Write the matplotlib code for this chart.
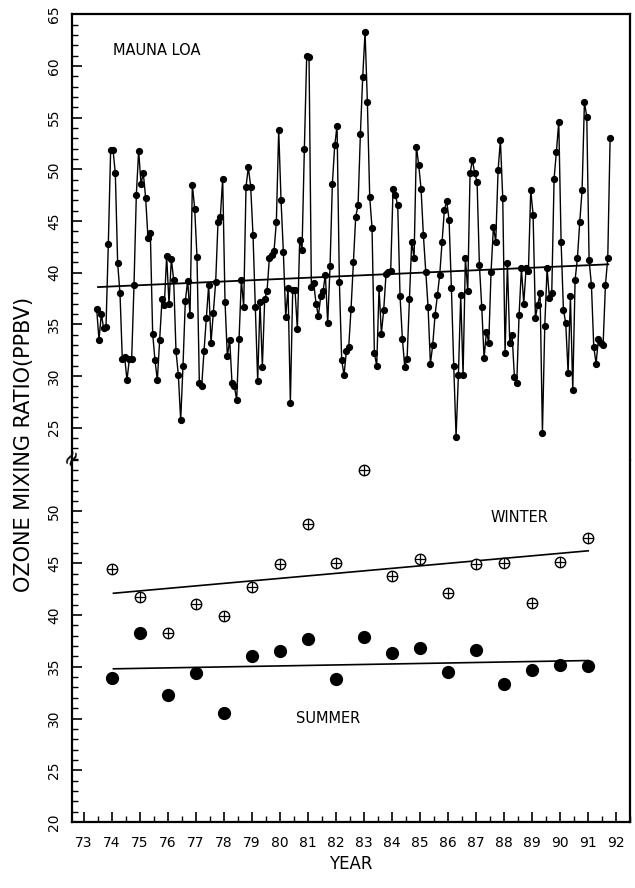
import numpy as np
import matplotlib
matplotlib.use("Agg")
import matplotlib.pyplot as plt
from matplotlib.ticker import MultipleLocator

# Mauna Loa, mesicni hodnoty ozonu (ppbv), od pol. 1973
start_year = 73.45
ozone_monthly = [
    36.5, 33.5, 36.0, 34.6, 34.7, 42.8, 51.9,
    51.9, 49.6, 40.9, 38.0, 31.6, 31.8, 29.6, 31.6, 31.6, 38.8, 47.5,
    51.8, 48.6, 49.6, 47.2, 43.3, 43.8, 34.1, 31.5, 29.6, 33.5, 37.4, 36.9,
    41.6, 37.0, 41.3, 39.3, 32.4, 30.1, 25.7, 31.0, 37.3, 39.2, 35.9,
    48.5, 46.2, 41.5, 29.3, 29.0, 32.4, 35.6, 38.8, 33.2, 36.1, 39.1, 44.9, 45.4,
    49.1, 37.2, 31.9, 33.5, 29.3, 29.0, 27.7, 33.6, 39.3, 36.7, 48.3,
    50.2, 48.3, 43.6, 36.7, 29.5, 37.2, 30.9, 37.4, 38.2, 41.4, 41.7, 42.1, 44.9,
    53.8, 47.0, 42.0, 35.7, 38.5, 27.4, 38.3, 38.3, 34.5, 43.2, 42.2, 52.0,
    61.0, 60.9, 38.6, 39.0, 37.0, 35.8, 37.7, 38.2, 39.8, 35.1, 40.6, 48.6, 52.3,
    54.2, 39.1, 31.5, 30.1, 32.4, 32.8, 36.5, 41.0, 45.4, 46.5, 53.4, 58.9,
    63.3, 56.5, 47.3, 44.3, 32.2, 31.0, 38.5, 34.1, 36.4, 39.9, 40.1, 40.2,
    48.1, 47.5, 46.5, 37.7, 33.6, 30.9, 31.6, 37.4, 43.0, 41.4,
    52.2, 50.4, 48.1, 43.6, 40.1, 36.7, 31.2, 33.0, 35.9, 37.8, 39.8, 43.0, 46.1,
    46.9, 45.1, 38.5, 31.0, 24.1, 30.1, 37.8, 30.1, 41.4, 38.2, 49.6,
    50.9, 49.6, 48.8, 40.7, 36.7, 31.7, 34.3, 33.2, 40.1, 44.4, 43.0, 49.9,
    52.8, 47.2, 32.2, 40.9, 33.2, 34.0, 29.9, 29.3, 35.9, 40.4, 37.0, 40.4, 40.2,
    48.0, 45.6, 35.6, 36.9, 38.0, 24.5, 34.8, 40.4, 37.5, 38.0, 49.1, 51.7,
    54.6, 43.0, 36.4, 35.1, 30.3, 37.7, 28.6, 39.3, 41.4, 44.9, 48.0,
    56.5, 55.1, 41.2, 38.8, 32.8, 31.2, 33.6, 33.2, 33.0, 38.8, 41.4,
    53.0,
]
monthly_x = start_year + np.arange(len(ozone_monthly)) / 12.0

# trend mesicnich dat (koncove body)
trend_x = [73.5, 91.72]
trend_y = [38.6, 40.8]

# sezonni prumery
years = [74, 75, 76, 77, 78, 79, 80, 81, 82, 83, 84, 85, 86, 87, 88, 89, 90, 91]
winter = [44.4, 41.7, 38.3, 41.1, 39.9, 42.7, 44.9, 48.8, 45.0, 54.0,
          43.8, 45.4, 42.1, 44.9, 45.0, 41.2, 45.1, 47.4]
summer = [33.9, 38.3, 32.3, 34.4, 30.5, 36.0, 36.5, 37.7, 33.8, 37.9,
          36.3, 36.8, 34.5, 36.6, 33.3, 34.7, 35.2, 35.1]
winter_trend_x = [74.05, 91.0]
winter_trend_y = [42.1, 46.2]
summer_trend_x = [74.05, 91.0]
summer_trend_y = [34.8, 35.6]

year_ticks = list(range(73, 93))

plt.rcParams['font.family'] = ['DejaVu Sans']

fig = plt.figure(figsize=(6.35, 8.88), dpi=100)
left, width = 0.1134, 0.879
ax1 = fig.add_axes([left, 0.482, width, 0.502])
ax2 = fig.add_axes([left, 0.0743, width, 0.408])

# horni panel
ax1.plot(monthly_x, ozone_monthly, '-o', color='black', lw=1.0, ms=4.2)
ax1.plot(trend_x, trend_y, color='black', lw=1.3)
ax1.set_ylim(21.87, 65)
ax1.text(75.6, 61.5, 'MAUNA LOA', fontsize=10.5, ha='center', va='center')

# dolni panel
ax2.plot(summer_trend_x, summer_trend_y, color='black', lw=1.2)
ax2.plot(winter_trend_x, winter_trend_y, color='black', lw=1.2)
ax2.plot(years, summer, 'o', color='black', ms=8.5, ls='none')
ax2.plot(years, winter, 'o', mfc='white', mec='black', mew=1.0, ms=7.5, ls='none')
ax2.plot(years, winter, '+', color='black', mew=0.9, ms=7.5, ls='none')
ax2.set_ylim(20, 55.0)
ax2.text(88.55, 49.4, 'WINTER', fontsize=10.5, ha='center', va='center')
ax2.text(81.7, 30.0, 'SUMMER', fontsize=10.5, ha='center', va='center')

for ax in (ax1, ax2):
    ax.set_xlim(72.57, 92.5)
    ax.yaxis.set_major_locator(MultipleLocator(5))
    ax.yaxis.set_minor_locator(MultipleLocator(1))
    ax.tick_params(axis='y', which='major', direction='in', length=7, width=1.2,
                   labelsize=10, labelrotation=90, pad=8, right=False)
    ax.tick_params(axis='y', which='minor', direction='in', length=4, width=1.0, right=False)
    for s in ax.spines.values():
        s.set_linewidth(1.6)
    for lab in ax.get_yticklabels():
        lab.set_va('center')

ax1.spines['bottom'].set_visible(False)
ax1.set_xticks([])
ax1.set_yticks([25, 30, 35, 40, 45, 50, 55, 60, 65])
ax2.spines['top'].set_visible(False)
ax2.set_yticks([20, 25, 30, 35, 40, 45, 50])
ax2.set_xticks(year_ticks)
ax2.set_xticklabels([str(y) for y in year_ticks])
ax2.xaxis.set_minor_locator(MultipleLocator(0.5))
ax2.tick_params(axis='x', which='major', direction='in', length=7, width=1.2,
                labelsize=10, pad=10, top=False)
ax2.tick_params(axis='x', which='minor', direction='in', length=4, width=1.0, top=False)
ax2.set_xlabel('YEAR', fontsize=12, labelpad=4)

# znacka preruseni osy
fig.text(left, 0.486, '\u2248', fontsize=16, rotation=60, ha='center', va='center')

fig.text(0.038, 0.50, 'OZONE MIXING RATIO(PPBV)', rotation=90, fontsize=15,
         ha='center', va='center')

fig.savefig('out.png', dpi=100)
